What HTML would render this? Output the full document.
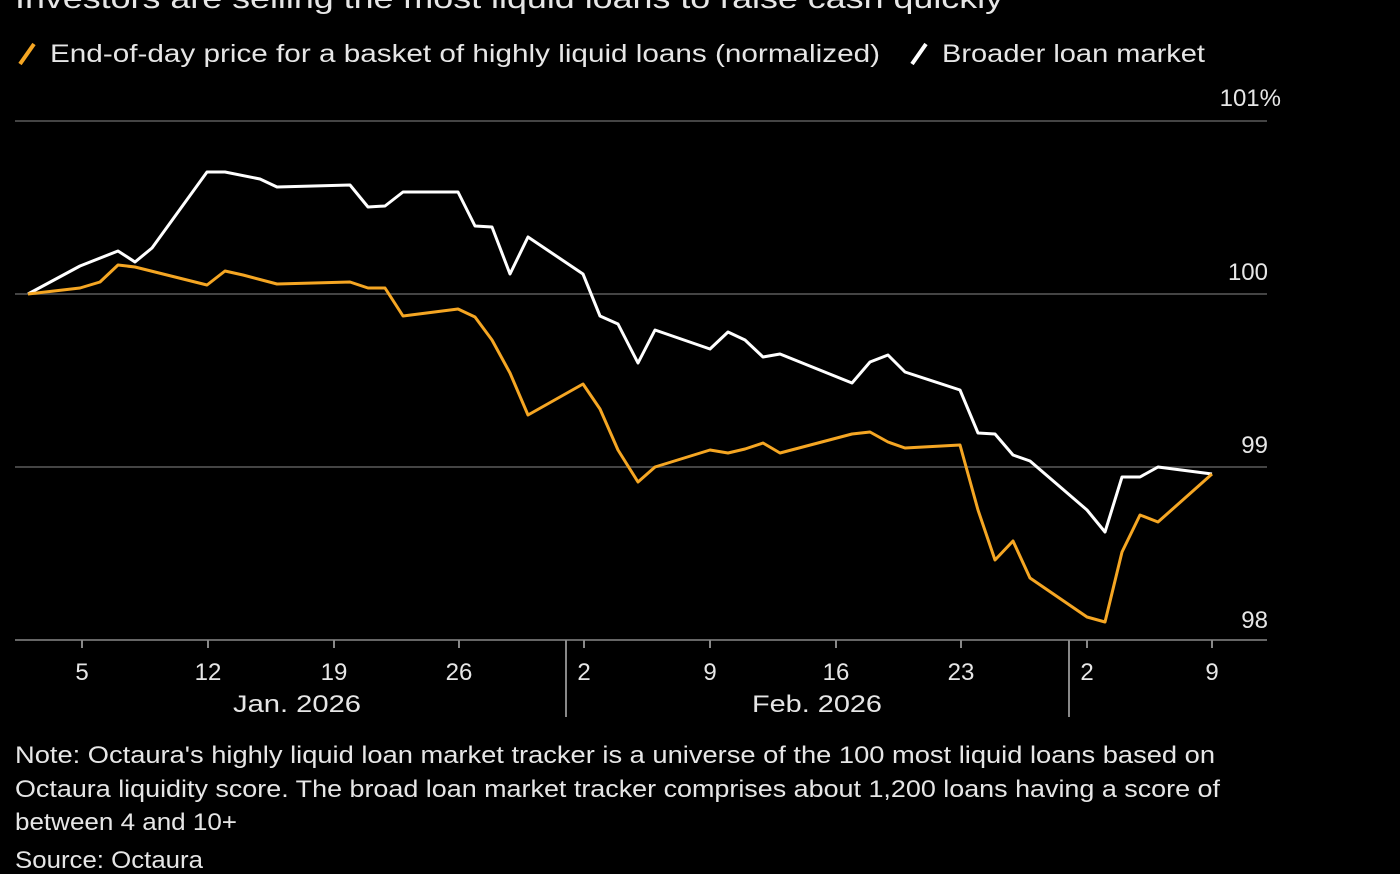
<!DOCTYPE html>
<html><head><meta charset="utf-8"><style>
html,body{margin:0;padding:0;background:#000;width:1400px;height:874px;overflow:hidden}
svg{display:block}
text{font-family:"Liberation Sans",sans-serif;fill:#e6e6e6}
</style></head><body>
<svg width="1400" height="874" viewBox="0 0 1400 874">
<rect width="1400" height="874" fill="#000"/>
<text x="15" y="8" font-size="29" textLength="988" lengthAdjust="spacingAndGlyphs">Investors are selling the most liquid loans to raise cash quickly</text>
<line x1="20" y1="64" x2="34" y2="44" stroke="#f5a623" stroke-width="4"/>
<text x="50" y="62" font-size="25" textLength="830" lengthAdjust="spacingAndGlyphs">End-of-day price for a basket of highly liquid loans (normalized)</text>
<line x1="912" y1="64" x2="926" y2="44" stroke="#fff" stroke-width="4"/>
<text x="942" y="62" font-size="25" textLength="263" lengthAdjust="spacingAndGlyphs">Broader loan market</text>
<g stroke="#444" stroke-width="2">
<line x1="15" y1="121" x2="1267" y2="121"/>
<line x1="15" y1="294" x2="1267" y2="294"/>
<line x1="15" y1="467" x2="1267" y2="467"/>
</g>
<line x1="15" y1="640" x2="1267" y2="640" stroke="#666" stroke-width="2"/>
<g font-size="24" text-anchor="end">
<text x="1281" y="106">101%</text>
<text x="1268" y="280">100</text>
<text x="1268" y="453">99</text>
<text x="1268" y="628">98</text>
</g>
<g stroke="#888" stroke-width="2">
<line x1="82" y1="640" x2="82" y2="648"/><line x1="208" y1="640" x2="208" y2="648"/>
<line x1="334" y1="640" x2="334" y2="648"/><line x1="459" y1="640" x2="459" y2="648"/>
<line x1="584" y1="640" x2="584" y2="648"/><line x1="710" y1="640" x2="710" y2="648"/>
<line x1="836" y1="640" x2="836" y2="648"/><line x1="961" y1="640" x2="961" y2="648"/>
<line x1="1087" y1="640" x2="1087" y2="648"/><line x1="1212" y1="640" x2="1212" y2="648"/>
<line x1="566" y1="640" x2="566" y2="717"/><line x1="1069" y1="640" x2="1069" y2="717"/>
</g>
<g font-size="24" text-anchor="middle">
<text x="82" y="680">5</text><text x="208" y="680">12</text><text x="334" y="680">19</text>
<text x="459" y="680">26</text><text x="584" y="680">2</text><text x="710" y="680">9</text>
<text x="836" y="680">16</text><text x="961" y="680">23</text><text x="1087" y="680">2</text>
<text x="1212" y="680">9</text>
</g>
<g font-size="24">
<text x="233" y="712" fill="#bbb" textLength="128" lengthAdjust="spacingAndGlyphs">Jan. 2026</text>
<text x="752" y="712" fill="#bbb" textLength="130" lengthAdjust="spacingAndGlyphs">Feb. 2026</text>
</g>
<polyline fill="none" stroke="#fff" stroke-width="3" stroke-linejoin="round" points="28,294 80,266 118,251 135,262 152,248 207,172 225,172 260,179 277,187 350,185 368,207 385,206 403,192 458,192 475,226 492,227 510,274 528,237 583,274 600,316 618,324 638,363 655,330 710,349 728,332 745,340 763,357 780,354 852,383 870,362 888,355 905,372 960,390 978,433 995,434 1013,455 1030,461 1087,510 1105,532 1122,477 1140,477 1158,467 1212,474"/>
<polyline fill="none" stroke="#f5a623" stroke-width="3" stroke-linejoin="round" points="28,294 80,288 100,282 118,265 135,267 207,285 225,271 243,275 277,284 350,282 368,288 385,288 403,316 458,309 475,317 492,340 510,373 528,415 583,384 600,409 618,450 638,482 655,467 710,450 728,453 745,449 763,443 780,453 852,434 870,432 888,442 905,448 960,445 978,510 995,560 1013,541 1030,578 1087,617 1105,622 1122,552 1140,515 1158,522 1212,474"/>
<g font-size="24">
<text x="15" y="763" textLength="1200" lengthAdjust="spacingAndGlyphs">Note: Octaura's highly liquid loan market tracker is a universe of the 100 most liquid loans based on</text>
<text x="15" y="797" textLength="1205" lengthAdjust="spacingAndGlyphs">Octaura liquidity score. The broad loan market tracker comprises about 1,200 loans having a score of</text>
<text x="15" y="830" textLength="222" lengthAdjust="spacingAndGlyphs">between 4 and 10+</text>
<text x="15" y="868" textLength="188" lengthAdjust="spacingAndGlyphs">Source: Octaura</text>
</g>
</svg>
</body></html>
